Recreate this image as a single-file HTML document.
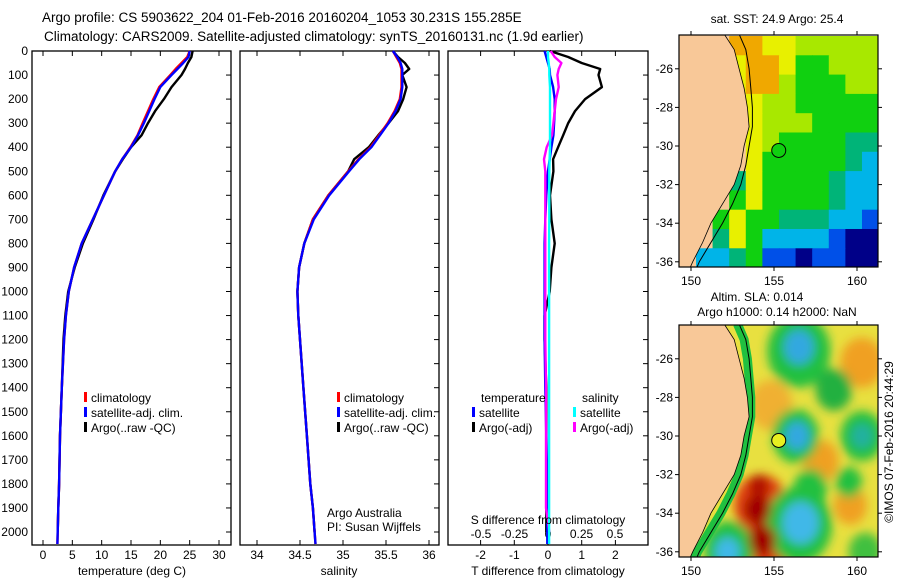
<!DOCTYPE html>
<html><head><meta charset="utf-8">
<style>
body{margin:0;background:#fff;}
svg{display:block;font-family:"Liberation Sans",sans-serif;}
text{font-size:12px;fill:#000;}
</style></head>
<body>
<svg id="c" width="900" height="580" viewBox="0 0 900 580">
<defs>
<filter id="blur" x="-20%" y="-20%" width="140%" height="140%"><feGaussianBlur stdDeviation="5"/></filter>
<clipPath id="clipTop"><rect x="679" y="35" width="199" height="232"/></clipPath>
<clipPath id="clipBot"><rect x="679" y="325" width="199" height="232"/></clipPath>
</defs>
<text x="42" y="22" style="font-size:13.5px">Argo profile: CS 5903622_204 01-Feb-2016 20160204_1053 30.231S 155.285E</text>
<text x="44" y="41" style="font-size:13.5px">Climatology: CARS2009. Satellite-adjusted climatology: synTS_20160131.nc (1.9d earlier)</text>
<g id="g"></g>
</svg>
<script>
// ---- profile data ----
const depths   = [0,25,50,75,100,150,200,250,300,350,400,450,500,600,700,800,900,1000,1100,1200,1400,1600,1800,1900,2000,2050];
const tempClim = [25.0,24.6,23.6,22.6,21.7,19.8,18.8,17.9,17.0,16.1,14.9,13.5,12.3,10.4,8.5,6.6,5.3,4.4,3.9,3.6,3.2,2.9,2.75,2.6,2.5,2.45];
const tempSat  = [25.0,24.8,23.9,22.9,21.9,20.0,19.0,18.1,17.2,16.2,15.0,13.5,12.3,10.4,8.5,6.6,5.3,4.4,3.9,3.6,3.2,2.9,2.75,2.6,2.5,2.45];
const tempArgo = [25.5,25.3,24.7,24.2,23.6,21.9,20.6,19.1,17.9,16.8,15.0,13.6,12.3,10.3,8.6,6.8,5.4,4.3,3.8,3.5,3.2,2.9,2.75,2.6,2.5,null];
const salClim  = [35.58,35.62,35.66,35.68,35.68,35.68,35.66,35.60,35.52,35.42,35.32,35.18,35.06,34.83,34.65,34.55,34.49,34.47,34.48,34.50,34.54,34.58,34.62,34.65,34.67,34.68];
const salSat   = [35.58,35.63,35.67,35.69,35.69,35.69,35.67,35.61,35.53,35.43,35.33,35.19,35.07,34.84,34.66,34.55,34.49,34.47,34.48,34.50,34.54,34.58,34.62,34.65,34.67,34.68];
const salArgo  = [35.58,35.64,35.72,35.77,35.69,35.74,35.70,35.64,35.53,35.41,35.30,35.13,35.06,34.83,34.65,34.55,34.49,34.47,34.48,34.50,34.54,34.58,34.62,34.65,34.67,null];
const tDiffArgo= [0.06,0.6,1.0,1.55,1.5,1.6,1.1,0.8,0.6,0.45,0.3,0.15,0.16,0.06,0.1,0.2,0.1,0.05,-0.1,-0.1,-0.05,-0.05,-0.05,-0.05,-0.05,null];
const tDiffSat = [-0.1,-0.05,0,0.05,0.06,0.15,0.2,0.2,0.18,0.16,0.1,0.05,0,-0.05,-0.08,-0.1,-0.1,-0.1,-0.1,-0.1,-0.08,-0.05,-0.02,-0.02,-0.02,-0.02];
const sDiffSat = [0,0,0.005,0.01,0.01,0.015,0.015,0.015,0.015,0.015,0.015,0.012,0.01,0.01,0.01,0.008,0.008,0.008,0.008,0.008,0.008,0.008,0.008,0.008,0.008,0.008];
const sDiffArgo= [0.02,0.05,0.1,0.08,0.07,0.08,0.06,0.05,0.04,0.03,-0.01,-0.03,-0.02,-0.02,-0.02,-0.02,-0.02,-0.02,-0.02,-0.02,-0.015,-0.015,-0.015,-0.015,0.01,null];
const depthTicks = [0,100,200,300,400,500,600,700,800,900,1000,1100,1200,1300,1400,1500,1600,1700,1800,1900,2000];
const tempTicks = [0,5,10,15,20,25,30];
const salTicks = [34,34.5,35,35.5,36];
const tdTicks = [-2,-1,0,1,2];
const sdTicks = [-0.5,-0.25,0,0.25,0.5];
const sdTickLabels = ['-0.5','-0.25','0','0.25','0.5'];
// ---- map data ----
const sstRows = [
 "LLLOOYYlllll",
 "LLLYOOYGGlll",
 "LLLYOOlGGGll",
 "LLLLYllGGGGG",
 "LLLLYlllGGGG",
 "LLLLYlGGGGTT",
 "LLLLYGGGGGTC",
 "LLLTYGGGGTCC",
 "LLLGYGGGGTCC",
 "LLGYGGTTTCCB",
 "LLTYGCCCCBNN",
 "LCCTGBBNBBNN"];
const sstColors = {L:'#f8c898',O:'#f0a800',Y:'#e8f000',l:'#a8e800',G:'#10d010',T:'#00b478',C:'#00b4e8',B:'#0050e8',N:'#000088'};
const coastLat = [-24.2,-25,-26,-27,-28,-29,-30,-31,-32,-33,-34,-35,-36,-36.4];
const coastLon = [152.0,152.6,152.9,153.2,153.4,153.5,153.2,153.0,152.6,151.9,151.2,150.7,150.1,149.9];
const shelfLon = [152.9,153.3,153.5,153.6,153.7,153.7,153.5,153.3,153.0,152.5,151.9,151.2,150.5,150.3];
const slaBlobs = [ // lon, lat, radius(deg), colour
 [160.3,-26.2,1.3,'#f0a020'],[157.8,-31.3,1.1,'#f0a020'],[159.6,-33.6,1.0,'#f0a020'],[154.8,-28.4,1.3,'#f0b030'],
 [154.2,-33.6,1.6,'#e04010'],[154.4,-35.6,1.6,'#e04010'],
 [156.5,-25.6,1.9,'#20c040'],[158.6,-27.6,1.1,'#20b040'],[156.3,-30.0,1.4,'#20c040'],[160.3,-30.0,1.3,'#20c040'],
 [157.2,-32.7,1.0,'#20c040'],[159.5,-32.4,0.8,'#20c040'],[156.5,-34.6,2.0,'#20c040'],[152.3,-35.9,1.5,'#20c040'],
 [160.5,-36.0,1.0,'#40c040'],
 [156.5,-25.4,0.9,'#30a8e0'],[156.4,-30.0,0.75,'#30a8e0'],[160.3,-30.0,0.65,'#20b0a0'],[156.6,-34.5,1.1,'#40b8e8'],[152.2,-36.0,0.75,'#40b8e8'],
 [154.0,-33.8,0.8,'#a00000'],[154.3,-35.4,0.8,'#a00000'],[154.1,-32.6,0.6,'#b01000']];

const g = document.getElementById('g');
const NS='http://www.w3.org/2000/svg';
function el(tag, attrs, parent){const e=document.createElementNS(NS,tag);for(const k in attrs)e.setAttribute(k,attrs[k]);(parent||g).appendChild(e);return e;}
function txt(x,y,s,anchor,parent){const t=el('text',{x:x,y:y,'text-anchor':anchor||'start'},parent);t.textContent=s;return t;}

const yD = d => 51 + d*0.2405;
const PT = {x0:32,x1:231, sx:v=>43+v*5.867};
const PS = {x0:240,x1:439, sx:v=>257+(v-34)*86};
const PD = {x0:448,x1:648, sx:v=>548+v*33.7, ss:v=>548+v*134};
const yTop=51, yBot=545;

function frame(p,name){
  const r=el('rect',{x:p.x0,y:yTop,width:p.x1-p.x0,height:yBot-yTop,fill:'none',stroke:'#000','stroke-width':1.3});
  
  
  depthTicks.forEach(d=>{
    el('line',{x1:p.x1-5,x2:p.x1,y1:yD(d),y2:yD(d),stroke:'#000'});
  });
}
function line(xs,fx,color,name,w){
  let pts=[];
  depths.forEach((d,i)=>{ if(xs[i]!==null) pts.push(fx(xs[i]).toFixed(1)+','+yD(d).toFixed(1)); });
  const pl=el('polyline',{points:pts.join(' '),fill:'none',stroke:color,'stroke-width':w||2.4,'stroke-linejoin':'round'});
  
  
}
function xticks(p,ticks,fx,labels,ly){
  ticks.forEach((v,i)=>{
    const x=fx(v);
    el('line',{x1:x,x2:x,y1:yTop,y2:yTop+5,stroke:'#000'});
    el('line',{x1:x,x2:x,y1:yBot,y2:yBot-5,stroke:'#000'});
    const t=txt(x,ly,labels?labels[i]:String(v),'middle');
    
    
  });
}
function legend(x,y,items){
  items.forEach((it,i)=>{
    el('rect',{x:x,y:y+i*15-10,width:3,height:10,fill:it[1]});
    const t=txt(x+7,y+i*15,it[0]);
    
    
  });
}

depthTicks.forEach(d=>{
  const t=txt(28,yD(d)+4,String(d),'end');
  
  
});

frame(PT,'temperature-panel');
xticks(PT,tempTicks,PT.sx,null,559);
line(tempArgo,PT.sx,'#000','temp-argo-line');
line(tempClim,PT.sx,'#f00','temp-clim-line');
line(tempSat,PT.sx,'#00f','temp-sat-line');
legend(84,402,[['climatology','#f00'],['satellite-adj. clim.','#00f'],['Argo(..raw -QC)','#000']]);
let t=txt(132,575,'temperature (deg C)','middle');



frame(PS,'salinity-panel');
xticks(PS,salTicks,PS.sx,null,559);
line(salArgo,PS.sx,'#000','sal-argo-line');
line(salClim,PS.sx,'#f00','sal-clim-line');
line(salSat,PS.sx,'#00f','sal-sat-line');
legend(337,402,[['climatology','#f00'],['satellite-adj. clim.','#00f'],['Argo(..raw -QC)','#000']]);
t=txt(339,575,'salinity','middle');


t=txt(327,517,'Argo Australia');


t=txt(327,531,'PI: Susan Wijffels');



frame(PD,'difference-panel');
xticks(PD,tdTicks,PD.sx,null,559);
sdTicks.forEach((v,i)=>{
  const tt=txt(PD.ss(v),538,sdTickLabels[i],'middle');
  
  
});
line(tDiffArgo,PD.sx,'#000','tdiff-argo-line');
line(tDiffSat,PD.sx,'#00f','tdiff-sat-line');
line(sDiffArgo,PD.ss,'#f0f','sdiff-argo-line');
line(sDiffSat,PD.ss,'#0ff','sdiff-sat-line');
t=txt(481,402,'temperature');


t=txt(582,402,'salinity');


legend(472,417,[['satellite','#00f'],['Argo(-adj)','#000']]);
legend(573,417,[['satellite','#0ff'],['Argo(-adj)','#f0f']]);
t=txt(548,524,'S difference from climatology','middle');


t=txt(548,575,'T difference from climatology','middle');



// ---- Maps ----
const mx = lon => 691 + (lon-150)*16.6;
function mapAxes(y0,name){
  const my = lat => y0 + 111 + (-30-lat)*19.3;
  const fr=el('rect',{x:679,y:y0,width:199,height:232,fill:'none',stroke:'#000','stroke-width':1.2});
  
  
  [150,155,160].forEach(l=>{
    el('line',{x1:mx(l),x2:mx(l),y1:y0-4,y2:y0,stroke:'#000'});
    el('line',{x1:mx(l),x2:mx(l),y1:y0+232,y2:y0+236,stroke:'#000'});
    const tt=txt(mx(l),y0+250,String(l),'middle');
    
    
  });
  [-26,-28,-30,-32,-34,-36].forEach(l=>{
    el('line',{x1:675,x2:679,y1:my(l),y2:my(l),stroke:'#000'});
    el('line',{x1:878,x2:882,y1:my(l),y2:my(l),stroke:'#000'});
    const tt=txt(673,my(l)+4,String(l),'end');
    
    
  });
}
function landPoly(my,parent){
  let pts=['679,'+(my(-24.2)-5)];
  coastLat.forEach((la,i)=>pts.push(mx(coastLon[i]).toFixed(1)+','+my(la).toFixed(1)));
  pts.push('679,'+(my(-36.4)+5));
  const p=el('polygon',{points:pts.join(' '),fill:'#f8c898'},parent);
  
  
  let sp=coastLat.map((la,i)=>mx(shelfLon[i]).toFixed(1)+','+my(la).toFixed(1));
  const s=el('polyline',{points:sp.join(' '),fill:'none',stroke:'#000','stroke-width':1},parent);
  
  
  el('polyline',{points:pts.slice(1,-1).join(' '),fill:'none',stroke:'#000','stroke-width':0.8},parent);
}
const gTop=el('g',{'clip-path':'url(#clipTop)'});


const myTop = lat => 146 + (-30-lat)*19.3;
sstRows.forEach((row,r)=>{
  for(let cI=0;cI<row.length;cI++){
    const lon=149.3+cI, lat=-24.3-r;
    el('rect',{x:mx(lon),y:myTop(lat),width:17.2,height:19.9,fill:sstColors[row[cI]]},gTop);
  }
});
landPoly(myTop,gTop);
let circ=el('circle',{cx:mx(155.285),cy:myTop(-30.231),r:7,fill:'#10d010',stroke:'#000','stroke-width':1},gTop);


mapAxes(35,'sst-map');
t=txt(777,23,'sat. SST: 24.9 Argo: 25.4','middle');



const myBot = lat => 436 + (-30-lat)*19.3;
const gBot=el('g',{'clip-path':'url(#clipBot)'});


el('rect',{x:679,y:325,width:199,height:232,fill:'#e8e040'},gBot);
const gBl=el('g',{filter:'url(#blur)'},gBot);
slaBlobs.forEach(b=>{
  el('ellipse',{cx:mx(b[0]),cy:myBot(b[1]),rx:b[2]*16.6,ry:b[2]*19.3,fill:b[3]},gBl);
});
let strip=coastLat.map((la,i)=>mx(shelfLon[i]-0.1).toFixed(1)+','+myBot(la).toFixed(1));
el('polyline',{points:strip.join(' '),fill:'none',stroke:'#20c040','stroke-width':9},gBot);
landPoly(myBot,gBot);
circ=el('circle',{cx:mx(155.285),cy:myBot(-30.231),r:7,fill:'#e8f020',stroke:'#000','stroke-width':1},gBot);


mapAxes(325,'sla-map');
t=txt(757,301,'Altim. SLA: 0.014','middle');


t=txt(777,316,'Argo h1000: 0.14 h2000: NaN','middle');


t=txt(0,0,'©IMOS 07-Feb-2016 20:44:29','middle');
t.setAttribute('transform','translate(893,442) rotate(-90)');


</script>
</body></html>
